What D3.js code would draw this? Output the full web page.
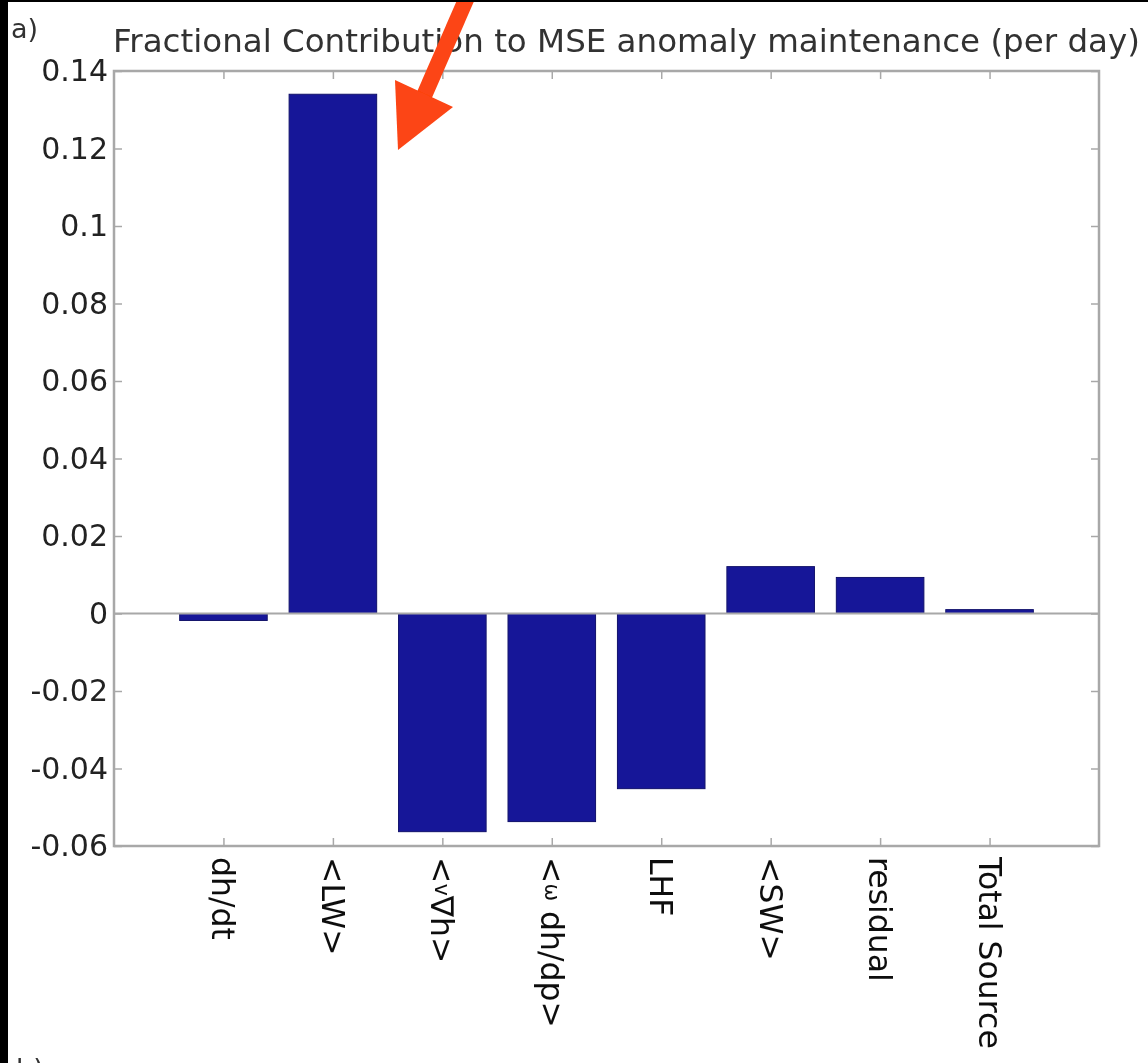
<!DOCTYPE html>
<html>
<head>
<meta charset="utf-8">
<script src="https://cdn.jsdelivr.net/npm/d3@7"></script>
<style>
  html, body { margin: 0; padding: 0; background: #fff; }
  svg { display: block; }
  text { font-family: "DejaVu Sans", sans-serif; }
</style>
</head>
<body>
<svg id="chart" width="1148" height="1063"></svg>
<script>
// Terms of the MSE anomaly budget, in plotting order
const categories = ["dh/dt", "<LW>", "<v∇h>", "<ω dh/dp>", "LHF", "<SW>", "residual", "Total Source"];
// Fractional contribution of each term (per day)
const values = [-0.0018, 0.134, -0.0563, -0.0537, -0.0452, 0.0121, 0.0093, 0.001];
// Y-axis tick values and labels
const yTicks = [0.14, 0.12, 0.1, 0.08, 0.06, 0.04, 0.02, 0, -0.02, -0.04, -0.06];
const yTickLabels = ["0.14", "0.12", "0.1", "0.08", "0.06", "0.04", "0.02", "0", "-0.02", "-0.04", "-0.06"];

const svg = d3.select("#chart");
const W = 1148, H = 1063;
const m = { left: 114, right: 1099, top: 71, bottom: 846 };

// Soft rendering filter for the whole figure
svg.append("defs").append("filter").attr("id", "soft")
  .append("feGaussianBlur").attr("stdDeviation", 0.6);

const root = svg.append("g").attr("filter", "url(#soft)");
root.append("rect").attr("width", W).attr("height", H).attr("fill", "#fff");

// x: bars sit at integer positions 1..n on a 0..n+1 axis
const x = d3.scaleLinear().domain([0, categories.length + 1]).range([m.left, m.right]);
const y = d3.scaleLinear().domain([-0.06, 0.14]).range([m.bottom, m.top]);
const barW = x(0.8) - x(0);

// Bars
root.append("g").selectAll("rect").data(values).join("rect")
  .attr("x", (d, i) => x(i + 1) - barW / 2)
  .attr("width", barW)
  .attr("y", d => y(Math.max(0, d)))
  .attr("height", d => Math.abs(y(d) - y(0)))
  .attr("fill", "#191998")
  .attr("stroke", "#10106a")
  .attr("stroke-width", 1);

// Zero line
root.append("line")
  .attr("x1", m.left).attr("x2", m.right)
  .attr("y1", y(0)).attr("y2", y(0))
  .attr("stroke", "#a8a8a8").attr("stroke-width", 2);

// Frame
const axisColor = "#a8a8a8";
root.append("rect")
  .attr("x", m.left).attr("y", m.top)
  .attr("width", m.right - m.left).attr("height", m.bottom - m.top)
  .attr("fill", "none").attr("stroke", axisColor).attr("stroke-width", 2.5);

// Y axis (ticks pointing inward) plus mirrored ticks on the right
const yAxis = d3.axisLeft(y).tickValues(yTicks).tickSize(-8).tickPadding(6)
  .tickFormat((d, i) => yTickLabels[i]);
const gy = root.append("g").attr("transform", `translate(${m.left},0)`).call(yAxis);
gy.select(".domain").remove();
gy.selectAll(".tick line").attr("stroke", axisColor).attr("stroke-width", 1.5);
gy.selectAll(".tick text").attr("font-size", 30).attr("fill", "#222")
  .attr("font-family", "DejaVu Sans, sans-serif");

const gyr = root.append("g").attr("transform", `translate(${m.right},0)`)
  .call(d3.axisRight(y).tickValues(yTicks).tickSize(-8).tickFormat(""));
gyr.select(".domain").remove();
gyr.selectAll(".tick line").attr("stroke", axisColor).attr("stroke-width", 1.5);

// X axis: ticks inward at bottom and top, labels rotated
const xTickVals = categories.map((c, i) => i + 1);
const gx = root.append("g").attr("transform", `translate(0,${m.bottom})`)
  .call(d3.axisBottom(x).tickValues(xTickVals).tickSize(-8).tickFormat(""));
gx.select(".domain").remove();
gx.selectAll(".tick line").attr("stroke", axisColor).attr("stroke-width", 1.5);

const gxt = root.append("g").attr("transform", `translate(0,${m.top})`)
  .call(d3.axisTop(x).tickValues(xTickVals).tickSize(-8).tickFormat(""));
gxt.select(".domain").remove();
gxt.selectAll(".tick line").attr("stroke", axisColor).attr("stroke-width", 1.5);

// Rotated category labels; the small Greek/vector symbols are set smaller
const labelFont = 31.5, smallFont = 21;
const labelParts = {
  "<v∇h>": [["<", labelFont], ["v", smallFont], ["∇h>", labelFont]],
  "<ω dh/dp>": [["<", labelFont], ["ω", smallFont], [" dh/dp>", labelFont]]
};
categories.forEach((c, i) => {
  const t = root.append("text")
    .attr("transform", `translate(${x(i + 1)},${m.bottom + 11}) rotate(90)`)
    .attr("text-anchor", "start")
    .attr("dominant-baseline", "central")
    .attr("font-size", labelFont)
    .attr("fill", "#111");
  const parts = labelParts[c];
  if (parts) {
    parts.forEach(p => t.append("tspan").attr("font-size", p[1]).text(p[0]));
  } else {
    t.text(c);
  }
});

// Title and panel labels
root.append("text").attr("x", 113).attr("y", 52)
  .attr("font-size", 32.5).attr("fill", "#333")
  .text("Fractional Contribution to MSE anomaly maintenance (per day)");
root.append("text").attr("x", 11).attr("y", 38)
  .attr("font-size", 27).attr("fill", "#333").text("a)");
root.append("text").attr("x", 16).attr("y", 1078)
  .attr("font-size", 27).attr("fill", "#333").text("b)");

// Highlight arrow pointing at the <LW> bar
const arrow = root.append("g");
arrow.append("line")
  .attr("x1", 468).attr("y1", -5).attr("x2", 420).attr("y2", 105)
  .attr("stroke", "#fc4412").attr("stroke-width", 16);
arrow.append("path")
  .attr("d", "M398,150 L395,80 L453,107 Z")
  .attr("fill", "#fc4412");

// Black edges of the figure
svg.append("rect").attr("x", 0).attr("y", 0).attr("width", 8).attr("height", H).attr("fill", "#000");
svg.append("rect").attr("x", 0).attr("y", 0).attr("width", W).attr("height", 2).attr("fill", "#000");
</script>
</body>
</html>
